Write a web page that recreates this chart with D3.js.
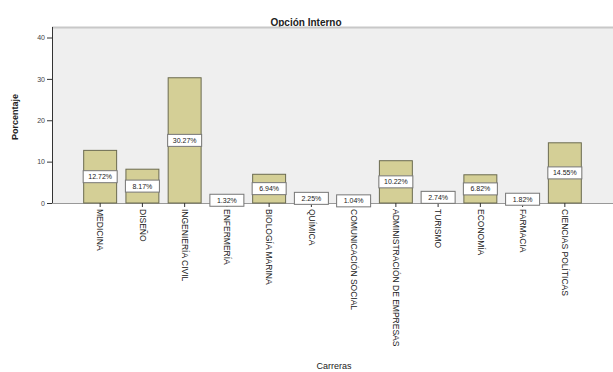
<!DOCTYPE html>
<html>
<head>
<meta charset="utf-8">
<script src="https://cdn.jsdelivr.net/npm/d3@7"></script>
<style>
  body { margin: 0; background: #fff; }
  svg text { font-family: "Liberation Sans", Arial, sans-serif; fill: #222; }
</style>
</head>
<body>
<svg id="chart" width="613" height="372"></svg>
<script>
const careers = [
  'MEDICINA', 'DISEÑO', 'INGENIERÍA CIVIL', 'ENFERMERÍA', 'BIOLOGÍA MARINA',
  'QUÍMICA', 'COMUNICACIÓN SOCIAL', 'ADMINISTRACIÓN DE EMPRESAS', 'TURISMO',
  'ECONOMÍA', 'FARMACIA', 'CIENCIAS POLÍTICAS'
];
const percents = [12.72, 8.17, 30.27, 1.32, 6.94, 2.25, 1.04, 10.22, 2.74, 6.82, 1.82, 14.55];
const yTicks = [0, 10, 20, 30, 40];

const svg = d3.select('#chart');
const W = 613;
const m = { left: 52, top: 27 };
const base = 203;

const x = d3.scaleBand()
  .domain(careers)
  .range([m.left, W])
  .paddingInner(0.22)
  .paddingOuter(0.75);

const y = d3.scaleLinear().domain([0, 40]).range([base, 37.5]);

// title
svg.append('text')
  .attr('x', 306).attr('y', 26)
  .attr('text-anchor', 'middle')
  .style('font-size', '10px').style('font-weight', 'bold')
  .text('Opción Interno');

// plot background
svg.append('rect')
  .attr('x', m.left).attr('y', m.top)
  .attr('width', W - m.left).attr('height', base - m.top)
  .attr('fill', '#efefef');
svg.append('line')
  .attr('x1', m.left).attr('x2', W).attr('y1', m.top + 0.5).attr('y2', m.top + 0.5)
  .attr('stroke', '#c8c8c8').attr('stroke-width', 2);
svg.append('line')
  .attr('x1', m.left).attr('x2', W).attr('y1', base + 0.5).attr('y2', base + 0.5)
  .attr('stroke', '#999');

// y axis
const yAxis = svg.append('g')
  .attr('transform', `translate(${m.left},0)`)
  .call(d3.axisLeft(y).tickValues(yTicks).tickSize(5).tickPadding(2));
yAxis.select('.domain').attr('stroke', '#333').attr('d', `M0.5,${m.top}V${base}`);
yAxis.selectAll('.tick line').attr('stroke', '#333');
yAxis.selectAll('.tick text').style('font-size', '7px').style('fill', '#444');

svg.append('text')
  .attr('transform', 'translate(18,117) rotate(-90)')
  .attr('text-anchor', 'middle')
  .style('font-size', '9px').style('font-weight', 'bold')
  .text('Porcentaje');

// bars
svg.append('g').selectAll('rect')
  .data(percents)
  .join('rect')
  .attr('x', (d, i) => x(careers[i]))
  .attr('y', d => y(d))
  .attr('width', x.bandwidth())
  .attr('height', d => y(0) - y(d))
  .attr('fill', '#d4cf96')
  .attr('stroke', '#6b6b50')
  .attr('stroke-width', 1);

// x axis
const xAxis = svg.append('g')
  .attr('transform', `translate(0,${base})`)
  .call(d3.axisBottom(x).tickSize(4).tickPadding(2));
xAxis.select('.domain').remove();
xAxis.selectAll('.tick line').attr('stroke', '#333');
xAxis.selectAll('.tick text')
  .style('font-size', '8.5px')
  .attr('text-anchor', 'start')
  .attr('transform', 'rotate(90)')
  .attr('x', 6).attr('y', 0).attr('dy', '0.32em');

svg.append('text')
  .attr('x', 334).attr('y', 369)
  .attr('text-anchor', 'middle')
  .style('font-size', '9px')
  .text('Carreras');

// value labels, centred in each bar
const lab = svg.append('g').selectAll('g')
  .data(percents)
  .join('g')
  .attr('transform', (d, i) => `translate(${x(careers[i]) + x.bandwidth() / 2},${(y(0) + y(d)) / 2})`);
lab.append('rect')
  .attr('x', -17).attr('y', -6).attr('width', 34).attr('height', 12)
  .attr('fill', '#fff').attr('stroke', '#777').attr('stroke-width', 1);
lab.append('text')
  .attr('text-anchor', 'middle').attr('dy', '0.35em')
  .style('font-size', '7px')
  .text(d => d.toFixed(2) + '%');
</script>
</body>
</html>
